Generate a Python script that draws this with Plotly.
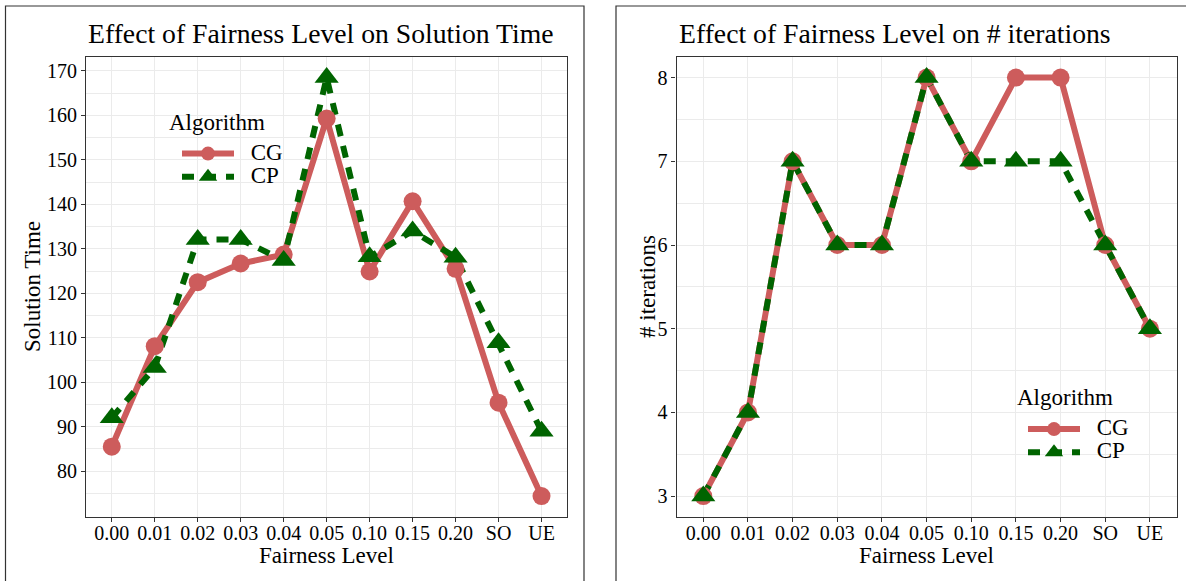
import plotly.graph_objects as go

# ---------------- data ----------------
fairness_levels = ["0.00", "0.01", "0.02", "0.03", "0.04", "0.05", "0.10", "0.15", "0.20", "SO", "UE"]
time_cg = [85.5, 108.1, 122.5, 126.7, 128.7, 159.3, 124.9, 140.7, 125.5, 95.4, 74.4]
time_cp = [92.0, 103.3, 132.1, 132.1, 127.4, 168.5, 128.2, 134.0, 128.1, 108.9, 89.0]
iter_cg = [3, 4, 7, 6, 6, 8, 7, 8, 8, 6, 5]
iter_cp = [3, 4, 7, 6, 6, 8, 7, 7, 7, 6, 5]
algorithms = ["CG", "CP"]
time_ticks = [80, 90, 100, 110, 120, 130, 140, 150, 160, 170]
time_minor = [75, 85, 95, 105, 115, 125, 135, 145, 155, 165]
iter_ticks = [3, 4, 5, 6, 7, 8]
iter_minor = [3.5, 4.5, 5.5, 6.5, 7.5]

# ---------------- style ----------------
W, H = 1186, 581
FONT = "Liberation Serif, Times New Roman, serif"
C_CG = "#CD5C5C"
C_CP = "#006400"
LW = 6
DASH = "12px,10px"
GRID = "#EBEBEB"
AX = "#333333"


def px_x(p):
    return p / W


def px_y(p):
    return 1 - p / H


def leg_label(t):
    return "\u00a0\u00a0\u00a0<span style='font-size:23px'>" + t + "</span>"


fig = go.Figure()

panels = [
    dict(xa="x", ya="y", cg=time_cg, cp=time_cp, legend="legend"),
    dict(xa="x2", ya="y2", cg=iter_cg, cp=iter_cp, legend="legend2"),
]

for p in panels:
    # lines first (as ggplot geom_line), then points
    fig.add_trace(go.Scatter(x=fairness_levels, y=p["cg"], mode="lines", xaxis=p["xa"], yaxis=p["ya"],
                             line=dict(color=C_CG, width=LW), showlegend=False, hoverinfo="skip"))
    fig.add_trace(go.Scatter(x=fairness_levels, y=p["cp"], mode="lines", xaxis=p["xa"], yaxis=p["ya"],
                             line=dict(color=C_CP, width=LW, dash=DASH), showlegend=False, hoverinfo="skip"))
    fig.add_trace(go.Scatter(x=fairness_levels, y=p["cg"], mode="markers", xaxis=p["xa"], yaxis=p["ya"],
                             marker=dict(color=C_CG, size=18, symbol="circle"), showlegend=False))
    fig.add_trace(go.Scatter(x=fairness_levels, y=p["cp"], mode="markers", xaxis=p["xa"], yaxis=p["ya"],
                             marker=dict(color=C_CP, size=21, symbol="triangle-up"), showlegend=False))
    # legend entries
    fig.add_trace(go.Scatter(x=[None], y=[None], mode="lines+markers", name=leg_label(algorithms[0]),
                             xaxis=p["xa"], yaxis=p["ya"], legend=p["legend"],
                             line=dict(color=C_CG, width=LW), marker=dict(color=C_CG, size=14, symbol="circle")))
    fig.add_trace(go.Scatter(x=[None], y=[None], mode="lines+markers", name=leg_label(algorithms[1]),
                             xaxis=p["xa"], yaxis=p["ya"], legend=p["legend"],
                             line=dict(color=C_CP, width=LW, dash=DASH),
                             marker=dict(color=C_CP, size=16, symbol="triangle-up")))

xcommon = dict(type="category", categoryorder="array", categoryarray=fairness_levels,
               range=[-0.6, 10.6], showgrid=True, gridcolor=GRID, gridwidth=1.1,
               showline=True, mirror=True, linecolor=AX, linewidth=1.1,
               ticks="outside", ticklen=4, tickwidth=1.1, tickcolor=AX, ticklabelstandoff=-6,
               tickfont=dict(family=FONT, size=20, color="#000000"), zeroline=False, fixedrange=True)
ycommon = dict(showgrid=True, gridcolor=GRID, gridwidth=1.1,
               showline=True, mirror=True, linecolor=AX, linewidth=1.1,
               ticks="outside", ticklen=4, tickwidth=1.1, tickcolor=AX, tickmode="array",
               tickfont=dict(family=FONT, size=20, color="#000000"), zeroline=False, fixedrange=True)

ydom = [px_y(517), px_y(56.7)]
legcommon = dict(xanchor="left", yanchor="top", bgcolor="rgba(0,0,0,0)",
                 font=dict(family=FONT, size=15.5, color="#000000"),
                 itemwidth=52, tracegroupgap=0)
fig.update_layout(
    width=W, height=H,
    margin=dict(l=0, r=0, t=0, b=0),
    paper_bgcolor="white", plot_bgcolor="white",
    font=dict(family=FONT, color="#000000"),
    xaxis=dict(domain=[px_x(86), px_x(567.3)], anchor="y", **xcommon),
    yaxis=dict(domain=ydom, anchor="x", range=[69.7, 173.2], tickvals=time_ticks,
               minor=dict(tickmode="array", tickvals=time_minor, showgrid=True, gridcolor=GRID,
                          gridwidth=0.7, ticks=""),
               **ycommon),
    xaxis2=dict(domain=[px_x(676.5), px_x(1176.7)], anchor="y2", **xcommon),
    yaxis2=dict(domain=ydom, anchor="x2", range=[2.75, 8.25], tickvals=iter_ticks,
                minor=dict(tickmode="array", tickvals=iter_minor, showgrid=True, gridcolor=GRID,
                           gridwidth=0.7, ticks=""),
                **ycommon),
    legend=dict(x=px_x(177), y=px_y(137), **legcommon),
    legend2=dict(x=px_x(1023), y=px_y(412.5), **legcommon),
    showlegend=True,
)

annots = [
    dict(text="Effect of Fairness Level on Solution Time", x=px_x(86), y=px_y(33.5), xanchor="left",
         yanchor="middle", font=dict(size=27.7)),
    dict(text="Effect of Fairness Level on # iterations", x=px_x(676.5), y=px_y(33.5), xanchor="left",
         yanchor="middle", font=dict(size=27.7)),
    dict(text="Fairness Level", x=px_x(326.5), y=px_y(555), xanchor="center", yanchor="middle",
         font=dict(size=23)),
    dict(text="Fairness Level", x=px_x(926.6), y=px_y(555), xanchor="center", yanchor="middle",
         font=dict(size=23)),
    dict(text="Solution Time", x=px_x(33), y=px_y(287), xanchor="center", yanchor="middle",
         textangle=-90, font=dict(size=23)),
    dict(text="# iterations", x=px_x(648), y=px_y(287), xanchor="center", yanchor="middle",
         textangle=-90, font=dict(size=23)),
    # legend titles
    dict(text="Algorithm", x=px_x(167), y=px_y(122.5), xanchor="left", yanchor="middle", font=dict(size=23)),
    dict(text="Algorithm", x=px_x(1015), y=px_y(397.5), xanchor="left", yanchor="middle", font=dict(size=23)),
]
for a in annots:
    a.update(xref="paper", yref="paper", showarrow=False)
    a["font"].update(family=FONT, color="#000000")
fig.update_layout(annotations=annots)

# outer panel frames
fig.add_shape(type="rect", xref="paper", yref="paper", x0=px_x(5.5), x1=px_x(584), y0=-0.1, y1=px_y(6),
              line=dict(color=AX, width=1.2), fillcolor="rgba(0,0,0,0)", layer="above")
fig.add_shape(type="rect", xref="paper", yref="paper", x0=px_x(616), x1=1.1, y0=-0.1, y1=px_y(6),
              line=dict(color=AX, width=1.2), fillcolor="rgba(0,0,0,0)", layer="above")

fig.write_html("out.html", config={"displayModeBar": False},
               post_script="document.body.style.margin='0';document.body.style.padding='0';"
                           "document.body.style.overflow='hidden';")
